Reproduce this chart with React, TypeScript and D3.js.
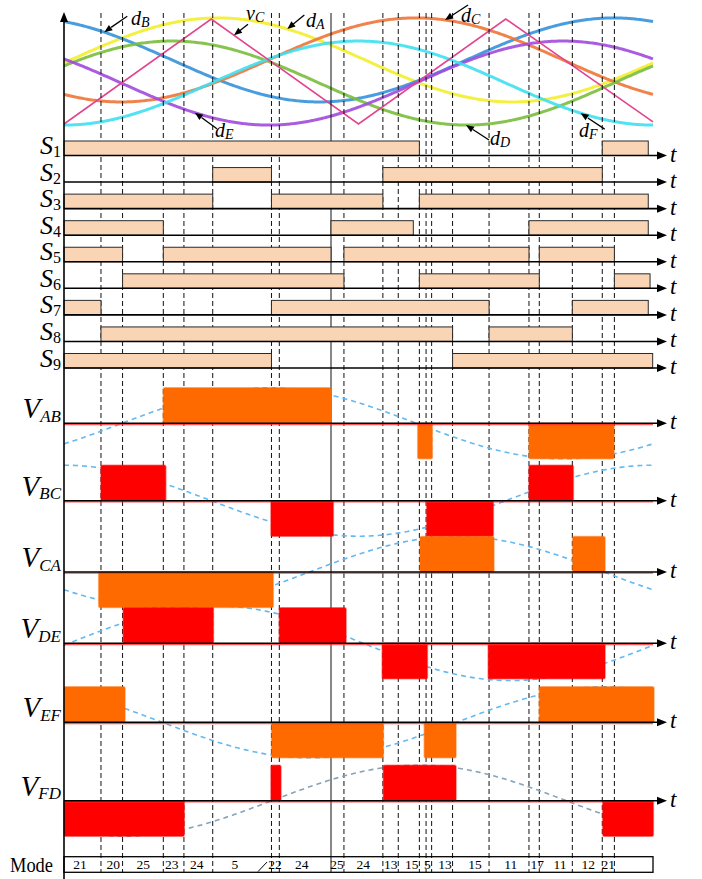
import React from 'react';
import * as d3 from 'd3';

const W = 702;
const H = 879;

// ---- top panel: reference (modulating) waves and carrier, angle in degrees over one fundamental period
const refNames = ['A', 'B', 'C', 'D', 'E', 'F'];
const refOffset = [0.61, 0.61, 0.61, 0.39, 0.39, 0.39];
const refAmp = [0.4, 0.4, 0.4, 0.4, 0.4, 0.4];
const refPeakDeg = [94, 336, 215, 66, 305, 180];
const refColors = ['#f3ee2e', '#3592da', '#ee7638', '#79be3c', '#a14ade', '#3fdff0'];

const carrierDeg = [0, 90, 180, 270, 360];
const carrierLevel = [0, 1, 0, 1, 0.02];

// ---- switching instants (vertical dashed lines)
const boundaryDeg = [22.6, 35.8, 60.7, 73.3, 90.9, 126.8, 131.6, 163.2, 171.1, 194.9, 204.3, 217.2, 221.3, 224.7, 237.5, 259.8, 284.2, 290.5, 310.7, 329.0, 336.4];
const solidBoundaryDeg = 163.2;

// ---- switch on-intervals
const switchNames = ['1', '2', '3', '4', '5', '6', '7', '8', '9'];
const S1 = [[0, 217.2], [329.0, 357.1]];
const S2 = [[90.9, 126.8], [194.9, 329.0]];
const S3 = [[0, 90.9], [126.8, 194.9], [217.2, 357.1]];
const S4 = [[0, 60.7], [163.2, 213.5], [284.2, 357.1]];
const S5 = [[0, 35.8], [60.7, 163.2], [171.1, 284.2], [290.5, 336.4]];
const S6 = [[35.8, 171.1], [217.2, 290.5], [336.4, 358.2]];
const S7 = [[0, 22.6], [126.8, 259.8], [310.7, 357.1]];
const S8 = [[22.6, 237.5], [259.8, 310.7]];
const S9 = [[0, 126.8], [237.5, 359.8]];
const switchOn = [S1, S2, S3, S4, S5, S6, S7, S8, S9];

// ---- line voltages: pulses [start, end, sign] and fundamental phase
const voltNames = ['AB', 'BC', 'CA', 'DE', 'EF', 'FD'];
const VAB = [[60.7, 163.2, 1], [216.2, 225.1, -1], [284.2, 336.2, -1]];
const VBC = [[22.6, 62.2, 1], [126.5, 164.6, -1], [221.7, 262.4, -1], [284.2, 311.3, 1]];
const VCA = [[21.2, 127.9, -1], [217.6, 262.8, 1], [310.9, 330.7, 1]];
const VDE = [[36.2, 91.3, 1], [131.6, 172.4, 1], [194.5, 222.1, -1], [259.3, 330.7, -1]];
const VEF = [[0, 37.3, 1], [126.9, 195.2, -1], [220.2, 239.6, -1], [290.5, 360.6, 1]];
const VFD = [[0, 73.5, -1], [126.5, 132.6, 1], [195.2, 239.6, 1], [329.3, 360.2, -1]];
const voltPulses = [VAB, VBC, VCA, VDE, VEF, VFD];
const voltPhaseDeg = [-35.4, 90, -150, -3, -240, -127];
const voltAmp = [1, 1, 1, 1.05, 1, 1];
const voltColors = ['#ff6a00', '#ff0000', '#ff6a00', '#ff0000', '#ff6a00', '#ff0000'];

// ---- mode row
const modeLabels = ['21', '20', '25', '23', '24', '5', '22', '24', '25', '24', '13', '15', '5', '13', '15', '11', '17', '11', '12', '21'];
const modeLabelDeg = [9.8, 30.1, 48.5, 65.8, 81.1, 104.5, 129.0, 145.3, 166.9, 182.9, 199.7, 212.5, 222.1, 232.9, 251.2, 273.0, 289.3, 303.2, 320.5, 332.7];

// ---- annotations of the top panel
const annotations = [
  { main: 'd', sub: 'B', wave: 'B', tipDeg: 24.6, tail: [23, -16], label: [131, 25] },
  { main: 'v', sub: 'C', wave: 'carrier', tipDeg: 103.9, tail: [14, -11], label: [246, 20] },
  { main: 'd', sub: 'A', wave: 'A', tipDeg: 136.5, tail: [17, -14], label: [306, 27] },
  { main: 'd', sub: 'E', wave: 'E', tipDeg: 80, tail: [22, 16], label: [215, 137] },
  { main: 'd', sub: 'C', wave: 'C', tipDeg: 232.9, tail: [23, -15], label: [461, 22] },
  { main: 'd', sub: 'D', wave: 'D', tipDeg: 245.7, tail: [23, 15], label: [490, 145] },
  { main: 'd', sub: 'F', wave: 'F', tipDeg: 315.8, tail: [24, 16], label: [579, 137] },
];

const FONT = "'Liberation Serif', 'DejaVu Serif', serif";
const rad = Math.PI / 180;

function arrowHead(tx: number, ty: number, fx: number, fy: number, len = 9, half = 3.6) {
  const dx = tx - fx, dy = ty - fy;
  const L = Math.hypot(dx, dy) || 1;
  const ux = dx / L, uy = dy / L;
  const bx = tx - ux * len, by = ty - uy * len;
  const px = -uy * half, py = ux * half;
  return `${tx},${ty} ${bx + px},${by + py} ${bx - px},${by - py}`;
}

export default function App() {
  const x = d3.scaleLinear().domain([0, 360]).range([64, 653]);
  const yTop = d3.scaleLinear().domain([0, 1]).range([124, 19]);
  const ySw = d3.scalePoint<string>().domain(switchNames).range([155.5, 368]);
  const carrier = d3.scaleLinear().domain(carrierDeg).range(carrierLevel);
  const voltBase = [423.3, 500.7, 572, 643.3, 722.3, 800.7];
  const unit = 35.5;
  const barH = 14.5;
  const axisEnd = 667;
  const degs = d3.range(0, 360.01, 1);

  const refLevel = (i: number, d: number) => refOffset[i] + refAmp[i] * Math.cos((d - refPeakDeg[i]) * rad);
  const refPath = (i: number) =>
    d3.line<number>().x((d) => x(d)).y((d) => yTop(refLevel(i, d)))(degs) || '';
  const carrierPath = d3.line<number>().x((d) => x(d)).y((d) => yTop(carrier(d)))(carrierDeg) || '';

  const voltPath = (k: number) => {
    const base = voltBase[k];
    const yv = d3.scaleLinear().domain([-1, 1]).range([base + unit, base - unit]);
    return d3.line<number>().x((d) => x(d)).y((d) => yv(voltAmp[k] * Math.sin((d + voltPhaseDeg[k]) * rad)))(degs) || '';
  };

  const modeTop = 856.7;
  const modeBot = 872.3;

  return (
    <svg width={W} height={H} style={{ position: 'absolute', left: 0, top: 0, background: '#fff' }} fontFamily={FONT}>
      <rect x={0} y={0} width={W} height={H} fill="#fff" />

      {/* reference waves */}
      {refNames.map((n, i) => (
        <path key={n} d={refPath(i)} fill="none" stroke={refColors[i]} strokeWidth={3} strokeOpacity={0.9} />
      ))}
      <path d={carrierPath} fill="none" stroke="#e2468f" strokeWidth={1.6} />

      {/* vertical dashed lines */}
      {boundaryDeg.map((b, i) => (
        <line key={i} x1={x(b)} x2={x(b)} y1={13} y2={modeBot}
          stroke="#111" strokeWidth={1}
          strokeDasharray={b === solidBoundaryDeg ? undefined : '5,3'} />
      ))}

      {/* fundamental components of line voltages */}
      {voltNames.map((n, k) => (
        <path key={n} d={voltPath(k)} fill="none" stroke={n === 'FD' ? '#86a3ba' : '#64b9f0'}
          strokeWidth={1.6} strokeDasharray="5,4" />
      ))}

      {/* switch bars */}
      {switchNames.map((n, r) => (
        <g key={n}>
          {switchOn[r].map(([a, b], j) => (
            <rect key={j} x={x(a)} y={(ySw(n) as number) - barH} width={x(b) - x(a)} height={barH}
              fill="#f9d5b6" stroke="#2a2a2a" strokeWidth={1} />
          ))}
        </g>
      ))}

      {/* voltage pulses */}
      {voltNames.map((n, k) => (
        <g key={n}>
          {voltPulses[k].map(([a, b, s], j) => {
            const base = voltBase[k];
            const yy = s > 0 ? base - unit : base;
            return (
              <rect key={j} x={x(a)} y={yy} width={x(b) - x(a)} height={unit} rx={1.5}
                fill={voltColors[k]} stroke={voltColors[k]} strokeOpacity={0.45} strokeWidth={1.6} />
            );
          })}
        </g>
      ))}

      {/* horizontal axes of switch rows */}
      {switchNames.map((n) => {
        const y = ySw(n) as number;
        return (
          <g key={n}>
            <line x1={64} x2={axisEnd - 6} y1={y} y2={y} stroke="#000" strokeWidth={1.6} />
            <polygon points={arrowHead(axisEnd, y, 64, y, 10, 4)} fill="#000" />
            <text x={670} y={y + 6} fontSize={23} fontStyle="italic">t</text>
            <text x={61} y={y - 1.5} fontSize={26} fontStyle="italic" textAnchor="end">
              S<tspan fontSize={16} fontStyle="normal" dy={3}>{n}</tspan>
            </text>
          </g>
        );
      })}

      {/* horizontal axes of voltage rows */}
      {voltNames.map((n, k) => {
        const y = voltBase[k];
        return (
          <g key={n}>
            <line x1={64} x2={653} y1={y + 1.2} y2={y + 1.2} stroke="#ff2a2a" strokeWidth={1.3} strokeOpacity={0.8} />
            <line x1={64} x2={axisEnd - 6} y1={y} y2={y} stroke="#000" strokeWidth={1.6} />
            <polygon points={arrowHead(axisEnd, y, 64, y, 10, 4)} fill="#000" />
            <text x={670} y={y + 6} fontSize={23} fontStyle="italic">t</text>
            <text x={61} y={y - 5} fontSize={29} fontStyle="italic" textAnchor="end">
              V<tspan fontSize={17} dy={3.5}>{n}</tspan>
            </text>
          </g>
        );
      })}

      {/* vertical axis */}
      <line x1={64} x2={64} y1={H} y2={20} stroke="#000" strokeWidth={1.6} />
      <polygon points={arrowHead(64, 12, 64, 40, 10, 4)} fill="#000" />

      {/* annotations */}
      {annotations.map((a, i) => {
        const lvl = a.wave === 'carrier' ? carrier(a.tipDeg) : refLevel(refNames.indexOf(a.wave), a.tipDeg);
        const tx = x(a.tipDeg), ty = yTop(lvl);
        const fx = tx + a.tail[0], fy = ty + a.tail[1];
        return (
          <g key={i}>
            <line x1={fx} y1={fy} x2={tx + (fx - tx) * 0.3} y2={ty + (fy - ty) * 0.3} stroke="#000" strokeWidth={1.3} />
            <polygon points={arrowHead(tx, ty, fx, fy, 8, 3.3)} fill="#000" />
            <text x={a.label[0]} y={a.label[1]} fontSize={20} fontStyle="italic">
              {a.main}<tspan fontSize={14} dy={2}>{a.sub}</tspan>
            </text>
          </g>
        );
      })}

      {/* mode row */}
      <rect x={x(0)} y={modeTop} width={x(360) - x(0)} height={modeBot - modeTop} fill="none" stroke="#000" strokeWidth={1.3} />
      <text x={10} y={871.5} fontSize={22} textLength={43} lengthAdjust="spacingAndGlyphs">Mode</text>
      {modeLabels.map((m, i) => (
        <text key={i} x={x(modeLabelDeg[i])} y={869} fontSize={13.5} textAnchor="middle">{m}</text>
      ))}
      <line x1={x(modeLabelDeg[6]) - 17} y1={871.5} x2={x(modeLabelDeg[6]) - 8} y2={862} stroke="#000" strokeWidth={1} />
    </svg>
  );
}
